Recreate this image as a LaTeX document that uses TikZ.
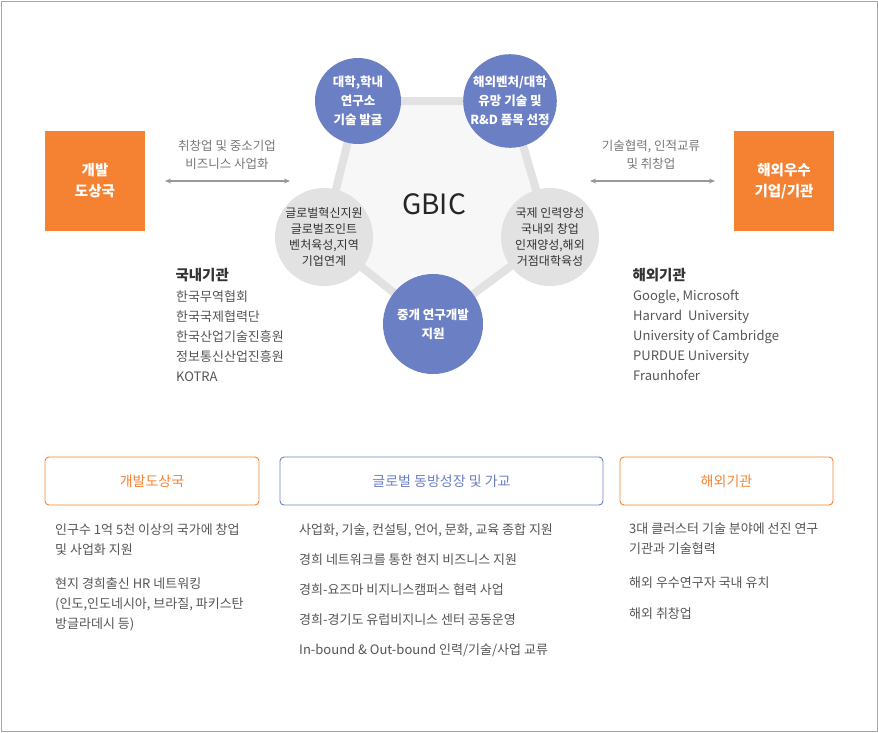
\documentclass[tikz,border=0pt]{standalone}
\usepackage{fontspec}
\setmainfont{Noto Sans CJK KR}
\usetikzlibrary{arrows.meta}
\definecolor{org}{HTML}{F58233}
\definecolor{blu}{HTML}{6B7FC4}
\definecolor{gry}{HTML}{E2E2E2}
\definecolor{txt}{HTML}{555555}
\definecolor{dark}{HTML}{333333}
\tikzset{
 bcirc/.style={circle,fill=blu,minimum size=86pt,text=white,align=center,font=\fontsize{12.5}{19}\selectfont\bfseries,inner sep=0pt},
 gcirc/.style={circle,fill=gry,minimum size=98pt,text=dark,align=center,font=\fontsize{12}{16}\selectfont,inner sep=0pt},
 obox/.style={fill=org,text=white,minimum width=100pt,minimum height=100pt,align=center,font=\fontsize{14.5}{21}\selectfont\bfseries},
 hbox/.style={draw,rounded corners=4pt,line width=0.9pt,minimum height=48pt,font=\fontsize{14}{16}\selectfont},
 lst/.style={anchor=north west,align=left,text=txt,font=\fontsize{13}{20}\selectfont,inner sep=0pt},
 captxt/.style={align=center,text=txt!80,font=\fontsize{12.5}{18}\selectfont},
 dbl/.style={{Stealth[length=6pt,width=5pt]}-{Stealth[length=6pt,width=5pt]},draw=gray!80,line width=1.2pt}
}
\begin{document}
\begin{tikzpicture}[x=1pt,y=-1pt]
\useasboundingbox (0,0) rectangle (878,732);
\draw[gray!70] (1,1) rectangle (877,731);
\coordinate (p1) at (358,101); \coordinate (p2) at (510,101);
\coordinate (p3) at (550,237); \coordinate (p4) at (433,324); \coordinate (p5) at (324,237);
\draw[gry,fill=gray!6,line width=8pt,line join=round] (p1)--(p2)--(p3)--(p4)--(p5)--cycle;
\node[font=\fontsize{28}{28}\selectfont,text=black!85] (g) at (434,204) {GBIC};
\node[bcirc] (c1) at (p1) {대학,학내\\연구소\\기술 발굴};
\node[bcirc] (c2) at (p2) {해외벤처/대학\\유망 기술 및\\R\&D 품목 선정};
\node[gcirc] (c3) at (p3) {국제 인력양성\\국내외 창업\\인재양성,해외\\거점대학육성};
\node[bcirc,minimum size=100pt] (c4) at (p4) {중개 연구개발\\지원};
\node[gcirc] (c5) at (p5) {글로벌혁신지원\\글로벌조인트\\벤처육성,지역\\기업연계};
\node[obox] (L) at (95,181) {개발\\도상국};
\node[obox] (R) at (784,181) {해외우수\\기업/기관};
\coordinate (a1) at (165,181); \coordinate (a2) at (290,181);
\coordinate (a3) at (590,181); \coordinate (a4) at (715,181);
\draw[dbl] (a1)--(a2); \draw[dbl] (a3)--(a4);
\node[captxt] (t1) at (227,155) {취창업 및 중소기업\\비즈니스 사업화};
\node[captxt] (t2) at (651,155) {기술협력, 인적교류\\및 취창업};
\node[anchor=west,font=\fontsize{14.5}{16}\selectfont\bfseries,text=dark] (k1) at (172,275) {국내기관};
\node[lst] (k1l) at (176,290) {한국무역협회\\한국국제협력단\\한국산업기술진흥원\\정보통신산업진흥원\\KOTRA};
\node[anchor=west,font=\fontsize{14.5}{16}\selectfont\bfseries,text=dark] (k2) at (629,275) {해외기관};
\node[lst] (k2l) at (633,290) {Google, Microsoft\\Harvard\ \ University\\University of Cambridge\\PURDUE University\\Fraunhofer};
\node[hbox,draw=org,text=org,minimum width=214pt] (h1) at (152,481) {개발도상국};
\node[hbox,draw=blu,text=blu,minimum width=323pt] (h2) at (441.5,481) {글로벌 동방성장 및 가교};
\node[hbox,draw=org,text=org,minimum width=213pt] (h3) at (726.5,481) {해외기관};
\node[lst] (l1) at (55,523) {인구수 1억 5천 이상의 국가에 창업\\및 사업화 지원};
\node[lst] (l2) at (55,577) {현지 경희출신 HR 네트워킹\\(인도,인도네시아, 브라질, 파키스탄\\방글라데시 등)};
\node[lst,font=\fontsize{13}{30}\selectfont] (m1) at (299,523) {사업화, 기술, 컨설팅, 언어, 문화, 교육 종합 지원\\경희 네트워크를 통한 현지 비즈니스 지원\\경희-요즈마 비지니스캠퍼스 협력 사업\\경희-경기도 유럽비지니스 센터 공동운영\\In-bound \& Out-bound 인력/기술/사업 교류};
\node[lst] (r1) at (629,523) {3대 클러스터 기술 분야에 선진 연구\\기관과 기술협력};
\node[lst] (r2) at (629,577) {해외 우수연구자 국내 유치};
\node[lst] (r3) at (629,607) {해외 취창업};
\end{tikzpicture}
\end{document}
